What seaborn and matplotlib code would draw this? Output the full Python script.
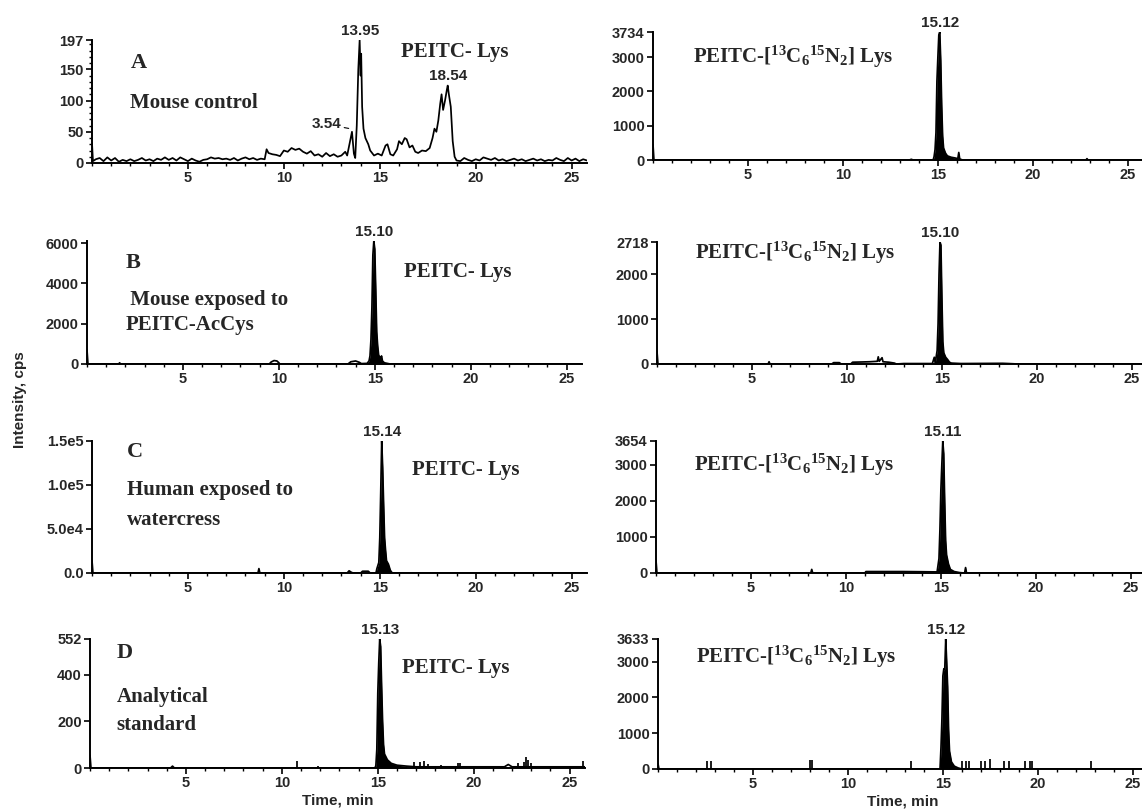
import matplotlib
matplotlib.use("Agg")
import numpy as np
import matplotlib.pyplot as plt
from matplotlib.ticker import MultipleLocator, FixedLocator
import seaborn as sns

# ---------------- data ----------------
# Panel A, left: PEITC-Lys, mouse control
a_left_t = [0.0, 0.05, 0.2, 0.4, 0.6, 0.8, 1.0, 1.2, 1.4, 1.6, 1.8, 2.0, 2.2, 2.4, 2.6, 2.8, 3.0, 3.2,
            3.4, 3.6, 3.8, 4.0, 4.2, 4.4, 4.6, 4.8, 5.0, 5.2, 5.4, 5.6, 5.8, 6.0, 6.2, 6.4, 6.6, 6.8,
            7.0, 7.2, 7.4, 7.6, 7.8, 8.0, 8.2, 8.4, 8.6, 8.8, 9.0, 9.1, 9.2, 9.4, 9.6, 9.8, 10.0, 10.2,
            10.4, 10.6, 10.8, 11.0, 11.2, 11.4, 11.6, 11.8, 12.0, 12.2, 12.4, 12.6, 12.8, 13.0, 13.2,
            13.3, 13.45, 13.55, 13.65, 13.72, 13.8, 13.88, 13.95, 14.0, 14.03, 14.08, 14.15, 14.25,
            14.4, 14.5, 14.7, 14.9, 15.1, 15.3, 15.4, 15.55, 15.7, 15.9, 16.0, 16.15, 16.3, 16.4,
            16.55, 16.7, 16.85, 17.0, 17.2, 17.4, 17.6, 17.75, 17.85, 17.95, 18.05, 18.15, 18.22,
            18.3, 18.4, 18.5, 18.54, 18.6, 18.7, 18.8, 18.9, 19.0, 19.2, 19.4, 19.6, 19.8, 20.0,
            20.2, 20.4, 20.6, 20.8, 21.0, 21.2, 21.4, 21.6, 21.8, 22.0, 22.2, 22.4, 22.6, 22.8, 23.0,
            23.2, 23.4, 23.6, 23.8, 24.0, 24.2, 24.4, 24.6, 24.8, 25.0, 25.2, 25.4, 25.6, 25.8]
a_left_y = [32, 3, 6, 8, 3, 9, 4, 8, 2, 5, 3, 6, 3, 5, 8, 4, 6, 3,
            7, 5, 9, 5, 8, 4, 9, 6, 3, 7, 4, 2, 5, 6, 9, 7, 8, 6,
            7, 5, 8, 4, 7, 9, 6, 8, 5, 7, 6, 22, 16, 14, 13, 11, 20, 18,
            24, 21, 23, 18, 15, 19, 12, 14, 10, 16, 11, 14, 10, 12, 18,
            12, 35, 50, 15, 8, 60, 150, 197, 140, 175, 90, 55, 40,
            30, 20, 12, 15, 12, 28, 30, 14, 12, 22, 35, 30, 40, 38,
            25, 28, 18, 16, 20, 19, 24, 40, 55, 50, 68, 95, 110,
            85, 100, 118, 124, 110, 90, 35, 10, 4, 3, 8, 5, 3, 6,
            4, 9, 7, 5, 8, 4, 6, 3, 5, 7, 4, 6, 3, 5, 7,
            4, 6, 3, 5, 4, 8, 5, 3, 8, 4, 7, 3, 6, 4]

# Panel A, right: PEITC-[13C6 15N2] Lys
a_right_t = [0.0, 0.05, 13.5, 13.6, 13.7, 14.75, 14.8, 14.85, 14.9, 14.95, 15.0, 15.05, 15.1, 15.15,
             15.2, 15.25, 15.3, 15.4, 15.5, 15.7, 15.9, 16.05, 16.1, 16.15, 16.3, 22.8, 22.85, 22.9, 25.8]
a_right_y = [450, 0, 0, 20, 0, 0, 100, 300, 800, 2300, 3000, 3650, 3734, 2900,
             1600, 700, 350, 200, 120, 80, 60, 40, 220, 30, 0, 0, 40, 0, 0]

# Panel B, left
b_left_t = [0.0, 0.05, 1.65, 1.7, 1.75, 9.5, 9.6, 9.75, 9.9, 10.0, 10.05, 13.6, 13.75, 14.0, 14.2,
            14.3, 14.6, 14.7, 14.75, 14.8, 14.85, 14.9, 14.95, 15.0, 15.05, 15.1, 15.15, 15.2, 15.3,
            15.35, 15.4, 15.5, 15.7, 15.8, 25.8]
b_left_y = [700, 0, 0, 60, 0, 0, 100, 170, 150, 60, 0, 0, 110, 150, 80,
            20, 30, 150, 400, 1200, 2800, 5400, 6100, 5700, 3700, 1600, 900, 450, 250,
            400, 150, 60, 20, 0, 0]

# Panel B, right
b_right_t = [0.0, 0.05, 5.85, 5.9, 5.95, 9.2, 9.3, 9.6, 9.7, 10.2, 10.3, 10.8, 11.2, 11.6, 11.65,
             11.7, 11.85, 11.9, 12.2, 12.5, 12.6, 13.0, 14.5, 14.6, 14.65, 14.75, 14.8, 14.85, 14.9,
             14.95, 15.0, 15.05, 15.1, 15.2, 15.3, 15.4, 15.5, 16.0, 18.2, 18.5, 19.0, 25.8]
b_right_y = [280, 0, 0, 50, 0, 0, 30, 30, 0, 0, 40, 45, 50, 60, 160,
             60, 140, 50, 40, 20, 0, 10, 10, 150, 20, 300, 900, 2000, 2718,
             2650, 1500, 500, 250, 150, 100, 40, 20, 10, 15, 10, 0, 0]

# Panel C, left
c_left_t = [0.0, 0.05, 8.65, 8.7, 8.75, 13.3, 13.4, 13.5, 13.6, 14.0, 14.1, 14.4, 14.5, 14.8, 14.85,
            14.95, 15.0, 15.05, 15.1, 15.15, 15.2, 15.25, 15.3, 15.35, 15.45, 15.55, 15.65, 25.8]
c_left_y = [14000, 0, 0, 5000, 0, 0, 2500, 1000, 0, 0, 2000, 2000, 0, 0, 5000,
            12000, 40000, 93000, 150000, 120000, 78000, 40000, 26000, 14000, 10000, 3000, 0, 0]

# Panel C, right
c_right_t = [0.0, 0.05, 8.15, 8.2, 8.25, 11.0, 11.05, 12.0, 13.0, 14.0, 14.8, 14.9, 14.95, 15.0,
             15.05, 15.1, 15.15, 15.2, 15.25, 15.3, 15.4, 15.5, 15.7, 16.0, 16.25, 16.3, 16.35, 25.8]
c_right_y = [350, 0, 0, 100, 0, 0, 40, 40, 40, 35, 30, 400, 1200, 2300,
             3000, 3654, 3300, 2000, 900, 500, 250, 100, 40, 10, 0, 150, 0, 0]

# Panel D, left
d_left_t = [0.0, 0.05, 4.2, 4.3, 4.4, 14.85, 14.9, 14.95, 15.0, 15.05, 15.1, 15.15, 15.2, 15.25,
            15.3, 15.35, 15.5, 15.7, 16.0, 16.5, 17.0, 21.6, 21.8, 22.0, 25.8]
d_left_y = [55, 0, 0, 8, 0, 0, 10, 80, 320, 450, 552, 520, 350, 200,
            100, 60, 35, 20, 12, 8, 5, 5, 15, 5, 5]
d_left_spike_t = [10.8, 11.9, 16.9, 17.2, 17.4, 17.6, 18.3, 19.2, 19.3, 22.3, 22.6, 22.75, 22.85, 23.0, 25.7]
d_left_spike_h = [30, 10, 25, 25, 28, 15, 12, 20, 22, 20, 25, 45, 35, 20, 30]

# Panel D, right
d_right_t = [0.0, 0.05, 14.85, 14.9, 14.95, 15.0, 15.05, 15.1, 15.15, 15.2, 15.25, 15.3, 15.35,
             15.45, 15.6, 15.8, 16.0, 25.8]
d_right_y = [150, 0, 0, 600, 1400, 2600, 2800, 2800, 3633, 3000, 2300, 1100, 500,
             200, 80, 30, 0, 0]
d_right_spike_t = [2.6, 2.8, 8.0, 8.1, 13.3, 16.0, 16.2, 16.4, 17.0, 17.2, 17.5, 18.2, 18.5, 19.3, 19.6, 19.7, 22.8]
d_right_spike_h = [230, 230, 250, 250, 230, 230, 230, 230, 230, 230, 280, 230, 230, 230, 230, 230, 230]

# tick labels
yticks_a_left = [0, 50, 100, 150, 197]
yticks_a_right = [0, 1000, 2000, 3000, 3734]
yticks_b_left = [0, 2000, 4000, 6000]
yticks_b_right = [0, 1000, 2000, 2718]
yticks_c_left = [0, 50000, 100000, 150000]
yticklabels_c_left = ["0.0", "5.0e4", "1.0e5", "1.5e5"]
yticks_c_right = [0, 1000, 2000, 3000, 3654]
yticks_d_left = [0, 200, 400, 552]
yticks_d_right = [0, 1000, 2000, 3000, 3633]
xticks = [5, 10, 15, 20, 25]

# peak labels: (x, y, text)
peaks_a_left = [(13.95, 197, "13.95"), (18.54, 124, "18.54")]
peak_a_right = (15.1, 3734, "15.12")
peak_b_left = (14.95, 6100, "15.10")
peak_b_right = (14.9, 2718, "15.10")
peak_c_left = (15.1, 150000, "15.14")
peak_c_right = (15.1, 3654, "15.11")
peak_d_left = (15.1, 552, "15.13")
peak_d_right = (15.15, 3633, "15.12")

# ---------------- style ----------------
sns.set_theme(style="ticks")
plt.rcParams['font.family'] = ['Liberation Sans', 'DejaVu Sans']
plt.rcParams['mathtext.default'] = 'regular'

W, H = 1142, 809
fig = plt.figure(figsize=(W / 100, H / 100), dpi=100)

SANS = ['Liberation Sans', 'DejaVu Sans']
SERIF = ['Liberation Serif', 'DejaVu Serif']
TICK_FS = 10.5
LBL_FS = 15
PK_FS = 11
XMAX = 25.8
LINE_W = 1.25


def make_ax(left, top, base, width, ymax, yticks, ylabels=None, yminor=None):
    ax = fig.add_axes([left / W, 1 - base / H, width / W, (base - top) / H])
    ax.set_xlim(0, XMAX)
    ax.set_ylim(0, ymax)
    ax.xaxis.set_major_locator(FixedLocator(xticks))
    ax.xaxis.set_minor_locator(MultipleLocator(1))
    ax.set_yticks(yticks)
    if ylabels is not None:
        ax.set_yticklabels(ylabels)
    if yminor:
        ax.yaxis.set_minor_locator(MultipleLocator(yminor))
    sns.despine(ax=ax)
    for s in ("left", "bottom"):
        ax.spines[s].set_linewidth(1.4)
        ax.spines[s].set_color("black")
    ax.tick_params(axis="both", which="major", direction="out", length=4, width=1.2,
                   color="black", labelsize=TICK_FS, pad=2)
    ax.tick_params(axis="both", which="minor", direction="out", length=2, width=1.0, color="black")
    for lab in ax.get_xticklabels() + ax.get_yticklabels():
        lab.set_fontweight("bold")
        lab.set_family(SANS)
    ax.set_xlabel("")
    ax.set_ylabel("")
    ax.patch.set_alpha(0)
    return ax


def trace(ax, t, y, fill=True, lo=14.6, hi=16.5):
    sns.lineplot(x=t, y=y, ax=ax, color="black", linewidth=LINE_W, estimator=None,
                 sort=False, legend=False)
    if fill:
        t_arr = np.asarray(t)
        ax.fill_between(t_arr, y, 0, where=(t_arr >= lo) & (t_arr <= hi), color="black",
                        linewidth=0)
    ax.set_xlabel("")
    ax.set_ylabel("")


def peak_label(ax, p):
    ax.annotate(p[2], xy=(p[0], p[1]), xytext=(0, 1.5), textcoords="offset points",
                ha="center", va="bottom", fontsize=PK_FS, fontweight="bold", family=SANS,
                annotation_clip=False)


def serif_text(ax, x, y, s, size=LBL_FS):
    ax.text(x, y, s, fontsize=size, fontweight="bold", family=SERIF, ha="left", va="center")


ISO = r"PEITC-[$^{13}$C$_6$$^{15}$N$_2$] Lys"
LW, RW = 495, 490

# ---- Row A ----
ax = make_ax(92, 40, 163, LW, 197, yticks_a_left, yminor=10)
trace(ax, a_left_t, a_left_y, fill=False)
for p in peaks_a_left:
    peak_label(ax, p)
ax.annotate("3.54", xy=(13.45, 55), xytext=(12.2, 62), fontsize=PK_FS, fontweight="bold",
            family=SANS, ha="center", va="center",
            arrowprops=dict(arrowstyle="-", color="black", lw=0.8, shrinkA=14, shrinkB=1))
serif_text(ax, 2.0, 160, "A", 16)
serif_text(ax, 2.0, 96, "Mouse control")
serif_text(ax, 16.1, 178, "PEITC- Lys")

ax = make_ax(653, 32, 160, RW, 3734, yticks_a_right)
trace(ax, a_right_t, a_right_y)
peak_label(ax, peak_a_right)
serif_text(ax, 2.1, 3000, ISO)

# ---- Row B ----
ax = make_ax(87, 241, 364, LW, 6100, yticks_b_left)
trace(ax, b_left_t, b_left_y)
peak_label(ax, peak_b_left)
serif_text(ax, 2.0, 5000, "B", 16)
serif_text(ax, 2.0, 3170, " Mouse exposed to")
serif_text(ax, 2.0, 1930, "PEITC-AcCys")
serif_text(ax, 16.5, 4560, "PEITC- Lys")

ax = make_ax(657, 242, 364, RW, 2718, yticks_b_right)
trace(ax, b_right_t, b_right_y)
peak_label(ax, peak_b_right)
serif_text(ax, 2.0, 2470, ISO)

# ---- Row C ----
ax = make_ax(92, 441, 573, LW, 150000, yticks_c_left, yticklabels_c_left)
trace(ax, c_left_t, c_left_y)
peak_label(ax, peak_c_left)
serif_text(ax, 1.8, 137000, "C", 16)
serif_text(ax, 1.8, 94000, "Human exposed to")
serif_text(ax, 1.8, 60000, "watercress")
serif_text(ax, 16.7, 117000, "PEITC- Lys")
fig.text(20 / W, 1 - 400 / H, "Intensity, cps", rotation=90, ha="center", va="center",
         fontsize=11, fontweight="bold", family=SANS)

ax = make_ax(656, 441, 573, RW, 3654, yticks_c_right)
trace(ax, c_right_t, c_right_y)
peak_label(ax, peak_c_right)
serif_text(ax, 2.0, 3000, ISO)

# ---- Row D ----
ax = make_ax(90, 639, 768, LW, 552, yticks_d_left)
trace(ax, d_left_t, d_left_y)
ax.vlines(d_left_spike_t, 0, d_left_spike_h, color="black", lw=LINE_W)
peak_label(ax, peak_d_left)
serif_text(ax, 1.4, 492, "D", 16)
serif_text(ax, 1.4, 304, "Analytical")
serif_text(ax, 1.4, 184, "standard")
serif_text(ax, 16.25, 428, "PEITC- Lys")
ax.set_xlabel("Time, min", fontsize=11, fontweight="bold", family=SANS, labelpad=2)

ax = make_ax(658, 639, 769, RW, 3633, yticks_d_right)
trace(ax, d_right_t, d_right_y)
ax.vlines(d_right_spike_t, 0, d_right_spike_h, color="black", lw=LINE_W)
peak_label(ax, peak_d_right)
serif_text(ax, 2.0, 3130, ISO)
ax.set_xlabel("Time, min", fontsize=11, fontweight="bold", family=SANS, labelpad=2)

fig.savefig("out.png", dpi=100, facecolor="white")
